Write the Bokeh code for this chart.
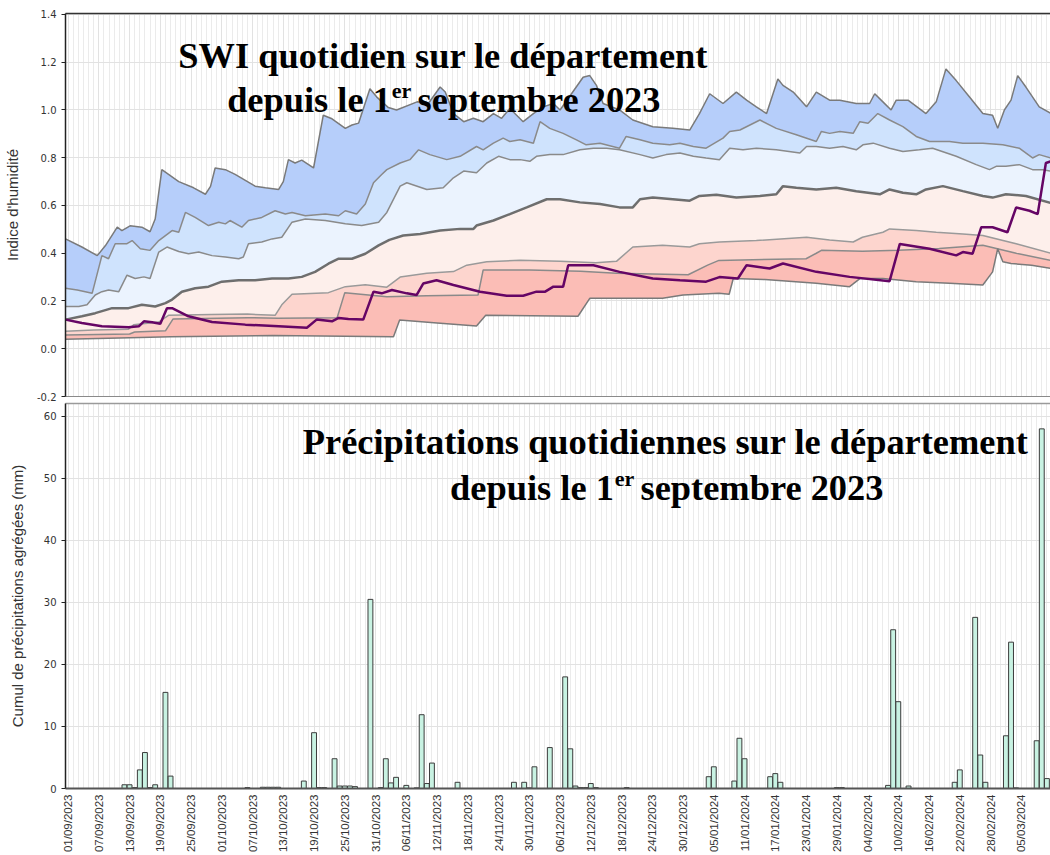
import math
from bokeh.plotting import figure
from bokeh.layouts import column
from bokeh.models import Range1d, FixedTicker, NumeralTickFormatter, Label, LinearAxis
from bokeh.embed import file_html
from bokeh.resources import INLINE

# ---------------- data (day index 0 = 01/09/2023) ----------------
tick_labels = ["01/09/2023", "07/09/2023", "13/09/2023", "19/09/2023", "25/09/2023",
               "01/10/2023", "07/10/2023", "13/10/2023", "19/10/2023", "25/10/2023",
               "31/10/2023", "06/11/2023", "12/11/2023", "18/11/2023", "24/11/2023",
               "30/11/2023", "06/12/2023", "12/12/2023", "18/12/2023", "24/12/2023",
               "30/12/2023", "05/01/2024", "11/01/2024", "17/01/2024", "23/01/2024",
               "29/01/2024", "04/02/2024", "10/02/2024", "16/02/2024", "22/02/2024",
               "28/02/2024", "05/03/2024", "11/03/2024"]
tick_days = [6 * i for i in range(len(tick_labels))]

max_d = [-0.5, 2.7, 5.7, 7.3, 9.6, 10.5, 12.1, 14.4, 16.0, 17.0, 18.3, 21.6, 24.5, 26.8, 27.8, 28.7,
         30.7, 32.6, 36.5, 38.5, 41.1, 42.0, 43.0, 44.3, 45.6, 47.9, 49.8, 51.5, 54.1, 55.4, 56.7,
         58.9, 60.2, 62.5, 64.1, 68.1, 70.3, 72.6, 73.6, 75.2, 77.2, 79.1, 81.0, 83.0, 84.6, 86.2,
         88.8, 90.8, 92.7, 94.7, 96.0, 100.5, 101.8, 103.1, 104.4, 107.6, 110.2, 114.1, 118.0,
         121.3, 123.2, 125.2, 127.8, 130.4, 132.4, 134.3, 136.3, 138.5, 139.5, 141.5, 144.1, 146.0,
         148.6, 150.6, 153.8, 156.4, 157.4, 159.0, 160.6, 161.6, 163.9, 167.4, 169.4, 171.3, 173.3,
         175.9, 178.5, 180.4, 181.4, 182.7, 184.0, 185.3, 186.9, 189.5, 191.8]
max_v = [0.46, 0.426, 0.39, 0.432, 0.509, 0.495, 0.515, 0.509, 0.49, 0.543, 0.75, 0.70, 0.674, 0.647,
         0.68, 0.757, 0.75, 0.73, 0.681, 0.674, 0.667, 0.70, 0.792, 0.778, 0.79, 0.757, 0.978, 0.963,
         0.923, 0.937, 0.945, 1.089, 1.055, 1.01, 1.0, 1.034, 1.027, 1.096, 1.075, 0.985, 0.951,
         0.965, 0.951, 0.985, 0.965, 1.006, 0.951, 0.985, 1.013, 1.027, 1.0, 1.137, 1.144, 1.103,
         1.027, 1.0, 0.958, 0.93, 0.923, 0.916, 0.985, 1.068, 1.027, 1.075, 1.041, 1.013, 0.985,
         1.13, 1.103, 1.075, 1.013, 1.075, 1.041, 1.041, 1.027, 1.027, 1.068, 1.034, 1.0, 1.041,
         1.041, 0.985, 1.034, 1.172, 1.123, 1.054, 0.985, 0.978, 0.923, 1.0, 1.041, 1.144, 1.096,
         1.013, 0.985]

d90_d = [-0.5, 1.8, 4.7, 6.6, 7.9, 9.2, 11.5, 12.5, 14.1, 16.0, 17.7, 20.3, 21.6, 22.9, 24.8, 27.4,
         29.4, 30.7, 31.6, 33.9, 35.2, 37.8, 40.4, 42.4, 43.7, 46.3, 50.2, 52.8, 54.1, 56.3, 58.0,
         59.6, 61.2, 62.2, 64.8, 66.7, 68.4, 70.6, 73.9, 76.5, 79.7, 81.0, 83.0, 84.9, 86.2, 88.2,
         90.8, 92.1, 94.0, 96.6, 99.2, 101.1, 103.8, 107.6, 108.9, 111.6, 114.1, 117.4, 119.4,
         122.0, 124.5, 127.8, 129.1, 131.1, 135.0, 138.2, 142.1, 146.0, 147.0, 148.6, 150.6, 153.2,
         154.5, 156.1, 158.0, 160.3, 162.9, 165.5, 168.1, 172.0, 174.6, 178.5, 182.4, 185.6, 188.2,
         189.5, 191.8]
d90_v = [0.253, 0.246, 0.232, 0.39, 0.377, 0.44, 0.44, 0.453, 0.419, 0.412, 0.453, 0.495, 0.488,
         0.571, 0.55, 0.516, 0.53, 0.523, 0.537, 0.509, 0.537, 0.55, 0.578, 0.564, 0.571, 0.557,
         0.564, 0.557, 0.578, 0.564, 0.606, 0.695, 0.73, 0.75, 0.778, 0.792, 0.833, 0.813, 0.792,
         0.806, 0.847, 0.833, 0.861, 0.882, 0.868, 0.875, 0.861, 0.951, 0.923, 0.902, 0.875, 0.854,
         0.861, 0.84, 0.889, 0.875, 0.861, 0.854, 0.861, 0.847, 0.84, 0.882, 0.91, 0.916, 0.958,
         0.923, 0.896, 0.868, 0.91, 0.902, 0.91, 0.902, 0.951, 0.944, 0.985, 0.958, 0.93, 0.889,
         0.868, 0.868, 0.861, 0.861, 0.854, 0.84, 0.799, 0.813, 0.799]

q75_d = [-0.5, 2.1, 3.7, 5.3, 6.6, 7.9, 9.9, 11.5, 13.1, 14.8, 16.0, 17.7, 19.3, 21.6, 23.5, 25.5,
         28.1, 30.7, 33.3, 34.2, 35.2, 37.8, 39.8, 41.7, 43.7, 46.3, 50.2, 54.1, 57.3, 60.6, 62.2,
         64.8, 66.1, 70.0, 73.2, 75.2, 77.2, 79.7, 81.7, 84.0, 86.2, 88.2, 90.1, 91.4, 94.0, 96.6,
         99.9, 102.5, 105.1, 107.6, 111.6, 114.1, 116.7, 119.4, 122.0, 124.5, 127.1, 129.1, 131.7,
         134.3, 138.2, 142.8, 144.1, 146.0, 148.6, 151.2, 153.8, 155.1, 157.1, 160.3, 162.9, 166.1,
         168.7, 173.3, 177.2, 179.8, 181.1, 183.0, 185.6, 188.2, 190.2, 191.8]
q75_v = [0.177, 0.177, 0.184, 0.225, 0.239, 0.246, 0.239, 0.308, 0.294, 0.301, 0.294, 0.405, 0.426,
         0.407, 0.398, 0.405, 0.39, 0.384, 0.377, 0.384, 0.44, 0.447, 0.46, 0.467, 0.53, 0.543,
         0.537, 0.523, 0.516, 0.53, 0.571, 0.681, 0.695, 0.667, 0.674, 0.716, 0.744, 0.737, 0.778,
         0.806, 0.792, 0.792, 0.785, 0.806, 0.813, 0.813, 0.833, 0.84, 0.84, 0.833, 0.813, 0.799,
         0.813, 0.82, 0.806, 0.799, 0.792, 0.84, 0.833, 0.84, 0.833, 0.82, 0.847, 0.847, 0.84,
         0.847, 0.833, 0.854, 0.861, 0.84, 0.826, 0.833, 0.84, 0.806, 0.771, 0.75, 0.764, 0.764,
         0.771, 0.75, 0.75, 0.744]

med_d = [-0.5, 2.7, 5.3, 8.6, 11.8, 14.4, 17.0, 19.0, 20.3, 22.2, 24.8, 27.4, 30.0, 33.3, 36.5, 39.8,
         43.0, 45.6, 48.2, 50.8, 52.8, 55.4, 58.0, 60.6, 62.7, 65.4, 68.7, 72.6, 76.5, 79.1, 79.7,
         83.0, 86.2, 89.5, 93.4, 96.0, 99.9, 103.8, 107.6, 110.2, 111.6, 114.1, 118.0, 121.3, 123.2,
         126.5, 130.4, 135.0, 138.2, 139.5, 142.1, 146.0, 149.9, 153.8, 158.4, 160.3, 162.9, 165.5,
         167.4, 170.7, 174.6, 178.5, 180.4, 183.0, 186.9, 191.8]
med_v = [0.122, 0.136, 0.149, 0.17, 0.17, 0.184, 0.177, 0.191, 0.206, 0.239, 0.253, 0.26, 0.281,
         0.287, 0.287, 0.294, 0.294, 0.301, 0.322, 0.356, 0.377, 0.377, 0.398, 0.433, 0.456, 0.474,
         0.481, 0.495, 0.502, 0.502, 0.516, 0.537, 0.564, 0.592, 0.626, 0.626, 0.613, 0.606, 0.592,
         0.592, 0.626, 0.633, 0.626, 0.62, 0.64, 0.645, 0.633, 0.64, 0.647, 0.681, 0.674, 0.667,
         0.674, 0.66, 0.647, 0.667, 0.653, 0.647, 0.667, 0.681, 0.66, 0.64, 0.633, 0.647, 0.64, 0.61]

q25_d = [-0.5, 5.0, 11.8, 12.8, 17.7, 19.6, 28.0, 35.0, 40.4, 41.7, 43.7, 50.8, 54.1, 58.0, 62.2,
         64.8, 70.0, 75.2, 77.8, 81.7, 88.2, 96.0, 103.0, 107.0, 110.2, 116.0, 121.3, 123.2, 127.1,
         134.3, 144.1, 148.6, 153.2, 155.0, 159.0, 160.3, 165.5, 169.4, 174.6, 178.5, 185.0, 191.8]
q25_v = [0.073, 0.078, 0.082, 0.10, 0.112, 0.14, 0.143, 0.145, 0.14, 0.184, 0.228, 0.235, 0.26,
         0.268, 0.258, 0.30, 0.316, 0.323, 0.35, 0.364, 0.371, 0.366, 0.36, 0.366, 0.426, 0.433,
         0.426, 0.44, 0.447, 0.453, 0.467, 0.455, 0.447, 0.467, 0.488, 0.502, 0.495, 0.488, 0.481,
         0.474, 0.44, 0.40]

d10_d = [-0.5, 12.0, 13.0, 19.0, 20.5, 35.0, 41.0, 52.5, 54.0, 62.2, 70.0, 80.0, 81.0, 90.0, 100.0,
         107.0, 121.0, 124.8, 127.0, 144.0, 146.0, 147.0, 155.0, 162.0, 170.0, 178.5, 185.0, 191.8]
d10_v = [0.058, 0.062, 0.07, 0.075, 0.125, 0.13, 0.128, 0.13, 0.235, 0.218, 0.222, 0.225, 0.33,
         0.33, 0.325, 0.316, 0.31, 0.35, 0.37, 0.377, 0.40, 0.412, 0.408, 0.412, 0.42, 0.433, 0.40,
         0.37]

min_d = [-0.5, 10.0, 20.0, 40.0, 63.5, 64.7, 72.0, 79.7, 81.5, 99.5, 101.8, 116.0, 120.0, 127.0,
         129.0, 129.8, 136.0, 146.0, 152.5, 154.5, 159.0, 165.5, 172.0, 178.5, 180.4, 181.4, 182.4,
         184.0, 188.0, 191.8]
min_v = [0.04, 0.045, 0.05, 0.055, 0.05, 0.12, 0.108, 0.095, 0.14, 0.136, 0.211, 0.211, 0.225,
         0.232, 0.228, 0.294, 0.29, 0.274, 0.26, 0.294, 0.294, 0.281, 0.274, 0.267, 0.322, 0.419,
         0.364, 0.357, 0.35, 0.336]

cur_d = [-0.5, 2.7, 6.6, 11.8, 13.8, 14.8, 16.4, 18.0, 19.3, 20.3, 23.5, 28.1, 34.6, 41.1, 46.6,
         48.5, 51.5, 52.8, 54.7, 57.6, 59.6, 61.2, 63.2, 66.1, 68.0, 69.3, 71.9, 75.2, 80.4, 85.6,
         88.8, 91.4, 93.1, 94.7, 96.6, 97.6, 102.5, 107.6, 114.1, 119.4, 124.5, 127.1, 130.7, 132.4,
         136.9, 139.5, 146.0, 152.5, 160.3, 162.3, 168.1, 173.3, 174.6, 176.5, 178.2, 180.4, 183.3,
         185.0, 187.6, 189.2, 190.8, 191.8]
cur_v = [0.122, 0.108, 0.094, 0.09, 0.094, 0.115, 0.111, 0.105, 0.17, 0.17, 0.136, 0.112, 0.101,
         0.094, 0.088, 0.122, 0.115, 0.129, 0.125, 0.122, 0.239, 0.232, 0.246, 0.232, 0.225, 0.273,
         0.287, 0.267, 0.239, 0.222, 0.222, 0.239, 0.239, 0.26, 0.26, 0.35, 0.35, 0.322, 0.294,
         0.287, 0.281, 0.30, 0.294, 0.35, 0.336, 0.357, 0.322, 0.301, 0.283, 0.439, 0.419, 0.391,
         0.405, 0.398, 0.509, 0.509, 0.488, 0.592, 0.578, 0.564, 0.778, 0.785]

rain_days = [11, 12, 13, 14, 15, 16, 17, 19, 20, 35, 38, 39, 40, 41, 46, 48, 49, 50, 52, 53, 54, 55,
             56, 59, 61, 62, 63, 64, 66, 68, 69, 70, 71, 76, 87, 89, 90, 91, 94, 97, 98, 99, 100,
             101, 102, 103, 109, 125, 126, 130, 131, 132, 137, 138, 139, 150, 151, 160, 161, 162,
             164, 173, 174, 177, 178, 179, 183, 184, 185, 189, 190, 191]
rain_mm = [0.6, 0.6, 0.15, 3.0, 5.8, 0.15, 0.6, 15.5, 2.0, 0.15, 0.2, 0.2, 0.2, 0.2, 1.2, 9.0, 0.15,
           0.15, 4.8, 0.4, 0.4, 0.4, 0.3, 30.5, 0.15, 4.8, 0.9, 1.8, 0.5, 0.1, 11.9, 0.8, 4.1, 1.0,
           1.0, 1.0, 0.1, 3.5, 6.6, 18.0, 6.4, 0.4, 0.15, 0.15, 0.8, 0.15, 0.15, 1.9, 3.5, 1.2, 8.1,
           4.8, 1.9, 2.4, 1.0, 0.15, 0.15, 0.5, 25.6, 14.0, 0.4, 1.0, 3.0, 27.6, 5.4, 1.0, 8.5,
           23.6, 0.1, 7.7, 58.0, 1.6]

swi_ticks = [-0.2, 0.0, 0.2, 0.4, 0.6, 0.8, 1.0, 1.2, 1.4]
rain_ticks = [0, 10, 20, 30, 40, 50, 60]

# ---------------- styling ----------------
W = 1050
TICK_FONT = "DejaVu Sans"
LABEL_FONT = "Liberation Sans"
SERIF = "Liberation Serif"
GRID = "#e2e2e2"
MINOR_GRID = "#ebebeb"
TITLE_SIZE = "36.4px"
SUP_SIZE = "22px"

x_range = Range1d(-0.5, 191.7)
xticker = FixedTicker(ticks=tick_days, minor_ticks=list(range(0, 193)))


def style_common(p):
    p.background_fill_color = "white"
    p.outline_line_color = None
    p.xgrid.ticker = xticker
    p.xgrid.grid_line_color = GRID
    p.xgrid.minor_grid_line_color = MINOR_GRID
    p.ygrid.grid_line_color = GRID
    p.yaxis.axis_line_color = "#222222"
    p.yaxis.axis_line_width = 1.5
    p.yaxis.major_tick_line_color = "#222222"
    p.yaxis.major_tick_out = 4
    p.yaxis.major_tick_in = 0
    p.yaxis.minor_tick_line_color = None
    p.yaxis.major_label_text_font = TICK_FONT
    p.yaxis.major_label_text_font_size = "10px"
    p.yaxis.major_label_text_color = "#333333"
    p.yaxis.major_label_standoff = 5
    p.yaxis.axis_label_text_font = LABEL_FONT
    p.yaxis.axis_label_text_font_style = "normal"
    p.yaxis.axis_label_text_color = "#333333"


def border_axis(color):
    return LinearAxis(ticker=FixedTicker(ticks=[]), axis_line_color=color, axis_line_width=1.5,
                      major_tick_line_color=None, minor_tick_line_color=None,
                      major_tick_out=0, major_tick_in=0, minor_tick_out=0,
                      major_label_text_font_size="0px", major_label_standoff=0)


# ---------------- top: SWI ----------------
p1 = figure(width=W, height=402, output_backend="svg", toolbar_location=None,
            x_range=x_range, y_range=Range1d(-0.2, 1.404),
            min_border_left=64, min_border_right=0, min_border_top=13, min_border_bottom=6)
style_common(p1)
p1.xaxis.ticker = FixedTicker(ticks=[])
p1.xaxis.axis_line_color = "#8a8a8a"
p1.xaxis.major_tick_line_color = None
p1.xaxis.minor_tick_line_color = None
p1.xaxis.major_tick_out = 0
p1.xaxis.minor_tick_out = 0
p1.xaxis.major_label_text_font_size = "0px"
p1.xaxis.major_label_standoff = 0
p1.yaxis.ticker = FixedTicker(ticks=swi_ticks)
p1.yaxis.formatter = NumeralTickFormatter(format="0.0")
p1.yaxis.axis_label = "Indice d'humidité"
p1.yaxis.axis_label_text_font_size = "15px"
p1.yaxis.axis_label_standoff = 13
p1.add_layout(border_axis("#333333"), "above")

series = [(max_d, max_v), (d90_d, d90_v), (q75_d, q75_v), (med_d, med_v),
          (q25_d, q25_v), (d10_d, d10_v), (min_d, min_v)]
band_colors = ["#b6cefa", "#cfe3fd", "#ebf3fe", "#fdefeb", "#fdd5ce", "#fbbdb6"]
for i in range(6):
    ux, uy = series[i]
    lx, ly = series[i + 1]
    p1.patch(list(ux) + list(lx)[::-1], list(uy) + list(ly)[::-1],
             fill_color=band_colors[i], line_color=None)
line_styles = [("#7a7a7a", 1.5), ("#8a8a8a", 1.5), ("#8a8a8a", 1.5), ("#6e6e6e", 2.5),
               ("#9a9a9a", 1.5), ("#8a8a8a", 1.5), ("#7a7a7a", 1.5)]
for (xs, ys), (c, w) in zip(series, line_styles):
    p1.line(xs, ys, line_color=c, line_width=w)
p1.line(cur_d, cur_v, line_color="#650565", line_width=2.5)

title_kw = dict(text_font=SERIF, text_font_style="bold", text_color="black",
                text_baseline="alphabetic")
p1.add_layout(Label(x=73.2, y=1.224, text="SWI quotidien sur le département",
                    text_align="center", text_font_size=TITLE_SIZE, **title_kw))
p1.add_layout(Label(x=63.0, y=1.040, text="depuis le 1", text_align="right",
                    text_font_size=TITLE_SIZE, **title_kw))
p1.add_layout(Label(x=63.15, y=1.081, text="er", text_align="left",
                    text_font_size=SUP_SIZE, **title_kw))
p1.add_layout(Label(x=68.2, y=1.040, text="septembre 2023", text_align="left",
                    text_font_size=TITLE_SIZE, **title_kw))

# ---------------- bottom: precipitation ----------------
p2 = figure(width=W, height=453, output_backend="svg", toolbar_location=None,
            x_range=x_range, y_range=Range1d(0, 62.09),
            min_border_left=64, min_border_right=0, min_border_top=1, min_border_bottom=66)
style_common(p2)
p2.yaxis.ticker = FixedTicker(ticks=rain_ticks)
p2.yaxis.axis_label = "Cumul de précipitations agrégées (mm)"
p2.yaxis.axis_label_text_font_size = "15px"
p2.yaxis.axis_label_standoff = 15

xax = p2.below[0]
xax.ticker = xticker
xax.major_label_overrides = {d: lab for d, lab in zip(tick_days, tick_labels)}
xax.major_label_orientation = math.pi / 2
xax.major_label_text_font = LABEL_FONT
xax.major_label_text_font_size = "11.5px"
xax.major_label_text_color = "#333333"
xax.major_label_standoff = 6
xax.major_tick_line_color = None
xax.minor_tick_line_color = None
xax.major_tick_out = 0
xax.minor_tick_out = 0
xax.axis_line_color = "#555555"
xax.axis_line_width = 2
p2.add_layout(border_axis("#9a9a9a"), "above")

p2.vbar(x=rain_days, top=rain_mm, width=0.95, bottom=0,
        fill_color="#c8f2e2", line_color="#3c3c3c", line_width=1)

p2.add_layout(Label(x=116.6, y=55.9, text="Précipitations quotidiennes sur le département",
                    text_align="center", text_font_size=TITLE_SIZE, **title_kw))
p2.add_layout(Label(x=106.5, y=48.4, text="depuis le 1", text_align="right",
                    text_font_size=TITLE_SIZE, **title_kw))
p2.add_layout(Label(x=106.65, y=50.0, text="er", text_align="left",
                    text_font_size=SUP_SIZE, **title_kw))
p2.add_layout(Label(x=111.7, y=48.4, text="septembre 2023", text_align="left",
                    text_font_size=TITLE_SIZE, **title_kw))

layout = column(p1, p2)
open("out.html", "w").write(file_html(layout, INLINE))
